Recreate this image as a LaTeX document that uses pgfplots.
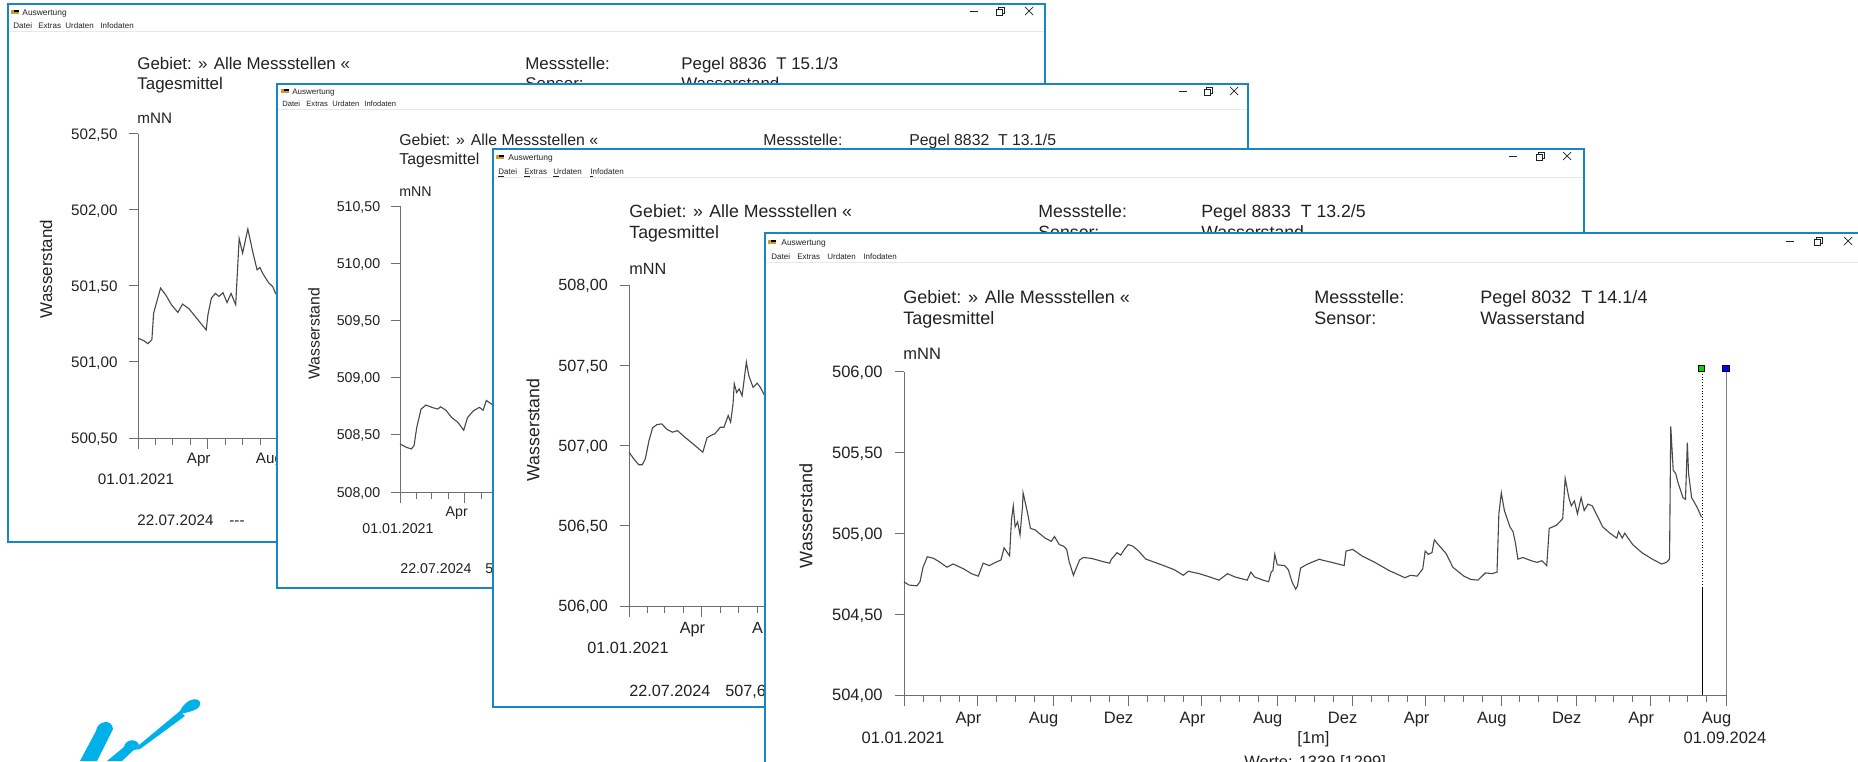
\documentclass[border=0pt]{standalone}
\usepackage{fontspec}
\setmainfont{Liberation Sans}
\usepackage{pgfplots}
\pgfplotsset{compat=1.18}
\definecolor{winblue}{RGB}{24,133,199}
\definecolor{txt}{RGB}{34,34,34}
\definecolor{axgray}{RGB}{110,110,110}
\definecolor{plotgray}{RGB}{72,72,72}
\definecolor{sepgray}{RGB}{232,232,232}
\definecolor{logocyan}{RGB}{0,176,232}
\definecolor{iconol}{RGB}{200,160,40}
\newcommand\fs[1]{\fontsize{#1}{#1}\selectfont}
\pgfplotsset{
 win/.style={
  scale only axis, anchor=south west,
  axis x line*=bottom, axis y line*=left,
  axis line style={draw=axgray, line width=0.5pt, -},
  tick style={axgray, line width=0.5pt},
  tick align=outside,
  major tick length=5.5pt, minor tick length=3.5pt,
  ytick style={/pgfplots/major tick length=4.5pt},
  xmin=0, xmax=1339,
  xtick={0,120,243,365,485,608,730,850,973,1095,1216,1339},
  minor xtick={31,59,90,151,181,212,273,304,334,396,424,455,516,546,577,638,669,699,761,789,820,881,911,942,1003,1034,1064,1126,1155,1186,1247,1277,1308},
  xticklabels={},
  extra x ticks={105,227.5,349.5,470,592.5,714.5,835,957.5,1079.5,1201,1323.5},
  extra x tick labels={Apr,Aug,Dez,Apr,Aug,Dez,Apr,Aug,Dez,Apr,Aug},
  /pgf/number format/assume math mode=true,
  yticklabel style={anchor=base east, inner sep=0pt, text=txt},
  clip=false,
 }
}
\newcommand\ctrls[4]{%
 \draw[txt, line width=0.35pt] (#1-4,#4) -- (#1+4,#4);
 \draw[txt, line width=0.35pt] (#2-4,#4-2) rectangle (#2+2,#4+4);
 \draw[txt, line width=0.35pt] (#2-2,#4-2) -- (#2-2,#4-4) -- (#2+4,#4-4) -- (#2+4,#4+2) -- (#2+2,#4+2);
 \draw[txt, line width=0.35pt] (#3-4,#4-4) -- (#3+4,#4+4) (#3-4,#4+4) -- (#3+4,#4-4);
}
\newcommand\icon[2]{\fill[iconol] (#1-4,#2-2) rectangle (#1+4,#2+2); \fill[black] (#1-1,#2-2) rectangle (#1+4,#2);}
\begin{document}
\begin{tikzpicture}[x=0.5pt,y=-0.5pt]
\begin{scope}
\clip (0,0) rectangle (1858,761);
\fill[white] (0,0) rectangle (1858,761);
% ---------- logo ----------
\fill[logocyan] (96,731) .. controls (97,721) and (112,718) .. (113,729) -- (97,761) -- (80,761) -- cycle;
\fill[logocyan] (124,747) .. controls (125,739) and (137,738) .. (139,745) -- (122,761) -- (107,761) -- cycle;
\fill[logocyan] (133,750) -- (180,711) -- (185,716) -- (140,749) -- cycle;
\fill[logocyan] (179,714) .. controls (182,702) and (196,695) .. (200,702) .. controls (202,709) and (191,712) .. (179,714) -- cycle;
% =============== WINDOW 1 ===============
\fill[white] (8,4) rectangle (1045,542);
\draw[winblue, line width=1pt] (8,4) rectangle (1045,542);
\draw[sepgray, line width=0.5pt] (9,31) -- (1044,31);
\icon{15}{12}
\node[anchor=base west, inner sep=0, font=\fs{4.2}, text=txt] at (22,15) {Auswertung};
\node[anchor=base west, inner sep=0, font=\fs{4}, text=txt] at (13,28) {Datei};
\node[anchor=base west, inner sep=0, font=\fs{4}, text=txt] at (38,28) {Extras};
\node[anchor=base west, inner sep=0, font=\fs{4}, text=txt] at (65,28) {Urdaten};
\node[anchor=base west, inner sep=0, font=\fs{4}, text=txt] at (100,28) {Infodaten};
\ctrls{974}{1000}{1029}{11}
\node[anchor=base west, inner sep=0, font=\fs{8.45}, text=txt] at (137,69) {Gebiet: » Alle Messstellen «};
\node[anchor=base west, inner sep=0, font=\fs{8.45}, text=txt] at (137,89) {Tagesmittel};
\node[anchor=base west, inner sep=0, font=\fs{8.45}, text=txt] at (525,69) {Messstelle:};
\node[anchor=base west, inner sep=0, font=\fs{8.45}, text=txt] at (525,89) {Sensor:};
\node[anchor=base west, inner sep=0, font=\fs{8.45}, text=txt] at (681,69) {Pegel 8836\ \ T 15.1/3};
\node[anchor=base west, inner sep=0, font=\fs{8.45}, text=txt] at (681,89) {Wasserstand};
\node[anchor=base west, inner sep=0, font=\fs{7.6}, text=txt] at (137,123) {mNN};
\node[rotate=90, inner sep=0, font=\fs{8.45}, text=txt] at (46,269) {Wasserstand};
\node[anchor=base, inner sep=0, font=\fs{7.6}, text=txt] at (136,484) {01.01.2021};
\node[anchor=base west, inner sep=0, font=\fs{7.6}, text=txt] at (137,525) {22.07.2024};
\node[anchor=base west, inner sep=0, font=\fs{7.6}, text=txt] at (229,525) {{-}{-}{-}};
\begin{axis}[win, at={(69pt,-219pt)}, width=387pt, height=152.2pt,
  ymin=500.5, ymax=502.5, ytick={500.5,501,501.5,502,502.5},
  yticklabels={{500,50},{501,00},{501,50},{502,00},{502,50}},
  tick label style={font=\fs{7.6}},
  yticklabel style={xshift=-4.5pt, yshift=-2.72pt},
  extra x tick style={/pgfplots/major tick length=0pt, tick label style={anchor=base, inner sep=0pt, text=txt, yshift=-12.75pt}}]
\addplot[plotgray, line width=0.55pt] coordinates {(0,501.156)(10,501.14)(17,501.12)(24,501.145)(27,501.32)(39,501.485)(48,501.44)(58,501.375)(69,501.325)(77,501.38)(88,501.35)(103,501.28)(118,501.21)(121,501.31)(127,501.42)(134,501.45)(140,501.43)(147,501.455)(154,501.39)(161,501.45)(169,501.375)(175,501.81)(181,501.715)(190,501.873)(199,501.715)(206,501.605)(211,501.62)(216,501.58)(226,501.52)(233,501.495)(238,501.45)(250,501.42)};
\end{axis}
% =============== WINDOW 2 ===============
\fill[white] (277,84) rectangle (1248,588);
\draw[winblue, line width=1pt] (277,84) rectangle (1248,588);
\draw[sepgray, line width=0.5pt] (278,109) -- (1247,109);
\icon{285}{91}
\node[anchor=base west, inner sep=0, font=\fs{4}, text=txt] at (292,94) {Auswertung};
\node[anchor=base west, inner sep=0, font=\fs{3.8}, text=txt] at (282,106) {Datei};
\node[anchor=base west, inner sep=0, font=\fs{3.8}, text=txt] at (306,106) {Extras};
\node[anchor=base west, inner sep=0, font=\fs{3.8}, text=txt] at (332,106) {Urdaten};
\node[anchor=base west, inner sep=0, font=\fs{3.8}, text=txt] at (364,106) {Infodaten};
\ctrls{1183}{1208}{1234}{91}
\node[anchor=base west, inner sep=0, font=\fs{7.9}, text=txt] at (399,145) {Gebiet: » Alle Messstellen «};
\node[anchor=base west, inner sep=0, font=\fs{7.9}, text=txt] at (399,164) {Tagesmittel};
\node[anchor=base west, inner sep=0, font=\fs{7.9}, text=txt] at (763,145) {Messstelle:};
\node[anchor=base west, inner sep=0, font=\fs{7.9}, text=txt] at (763,164) {Sensor:};
\node[anchor=base west, inner sep=0, font=\fs{7.9}, text=txt] at (909,145) {Pegel 8832\ \ T 13.1/5};
\node[anchor=base west, inner sep=0, font=\fs{7.9}, text=txt] at (909,164) {Wasserstand};
\node[anchor=base west, inner sep=0, font=\fs{7.1}, text=txt] at (399,196) {mNN};
\node[rotate=90, inner sep=0, font=\fs{7.9}, text=txt] at (314,334) {Wasserstand};
\node[anchor=base, inner sep=0, font=\fs{7.1}, text=txt] at (398,533) {01.01.2021};
\node[anchor=base west, inner sep=0, font=\fs{7.1}, text=txt] at (400,573) {22.07.2024};
\node[anchor=base west, inner sep=0, font=\fs{7.1}, text=txt] at (485,573) {508,73};
\begin{axis}[win, at={(200pt,-246pt)}, width=361.5pt, height=143pt,
  ymin=508, ymax=510.5, ytick={508,508.5,509,509.5,510,510.5},
  yticklabels={{508,00},{508,50},{509,00},{509,50},{510,00},{510,50}},
  tick label style={font=\fs{7.1}},
  yticklabel style={xshift=-4.2pt, yshift=-2.54pt},
  extra x tick style={/pgfplots/major tick length=0pt, tick label style={anchor=base, inner sep=0pt, text=txt, yshift=-12pt}}]
\addplot[plotgray, line width=0.55pt] coordinates {(0,508.42)(12,508.39)(21,508.377)(26,508.405)(31,508.565)(39,508.725)(48,508.76)(59,508.74)(70,508.725)(75,508.745)(85,508.715)(96,508.65)(107,508.61)(118,508.54)(125,508.65)(136,508.71)(147,508.74)(154,508.715)(160,508.80)(169,508.77)(180,508.74)};
\end{axis}
% =============== WINDOW 3 ===============
\fill[white] (493,149) rectangle (1584,707);
\draw[winblue, line width=1pt] (493,149) rectangle (1584,707);
\draw[sepgray, line width=0.5pt] (494,177) -- (1583,177);
\icon{500}{157}
\node[anchor=base west, inner sep=0, font=\fs{4.2}, text=txt] at (508,160) {Auswertung};
\node[anchor=base west, inner sep=0, font=\fs{4}, text=txt] at (498,174) {\underline{D}atei};
\node[anchor=base west, inner sep=0, font=\fs{4}, text=txt] at (524,174) {\underline{E}xtras};
\node[anchor=base west, inner sep=0, font=\fs{4}, text=txt] at (553,174) {\underline{U}rdaten};
\node[anchor=base west, inner sep=0, font=\fs{4}, text=txt] at (590,174) {\underline{I}nfodaten};
\ctrls{1513}{1540}{1567}{156}
\node[anchor=base west, inner sep=0, font=\fs{8.85}, text=txt] at (629,217) {Gebiet: » Alle Messstellen «};
\node[anchor=base west, inner sep=0, font=\fs{8.85}, text=txt] at (629,238) {Tagesmittel};
\node[anchor=base west, inner sep=0, font=\fs{8.85}, text=txt] at (1038,217) {Messstelle:};
\node[anchor=base west, inner sep=0, font=\fs{8.85}, text=txt] at (1038,238) {Sensor:};
\node[anchor=base west, inner sep=0, font=\fs{8.85}, text=txt] at (1201,217) {Pegel 8833\ \ T 13.2/5};
\node[anchor=base west, inner sep=0, font=\fs{8.85}, text=txt] at (1201,238) {Wasserstand};
\node[anchor=base west, inner sep=0, font=\fs{8.1}, text=txt] at (629,274) {mNN};
\node[rotate=90, inner sep=0, font=\fs{8.85}, text=txt] at (533,430) {Wasserstand};
\node[anchor=base, inner sep=0, font=\fs{8.1}, text=txt] at (628,653) {01.01.2021};
\node[anchor=base west, inner sep=0, font=\fs{8.1}, text=txt] at (629,696) {22.07.2024};
\node[anchor=base west, inner sep=0, font=\fs{8.1}, text=txt] at (725,696) {507,63};
\begin{axis}[win, at={(314.5pt,-303pt)}, width=405pt, height=160.5pt,
  ymin=506, ymax=508, ytick={506,506.5,507,507.5,508},
  yticklabels={{506,00},{506,50},{507,00},{507,50},{508,00}},
  tick label style={font=\fs{8.1}},
  yticklabel style={xshift=-4.8pt, yshift=-2.9pt},
  extra x tick style={/pgfplots/major tick length=0pt, tick label style={anchor=base, inner sep=0pt, text=txt, yshift=-13.5pt}}]
\addplot[plotgray, line width=0.55pt] coordinates {(0,506.958)(8,506.917)(16,506.88)(22,506.88)(27,506.917)(33,507.03)(39,507.11)(46,507.13)(54,507.135)(63,507.10)(72,507.083)(80,507.093)(93,507.05)(109,507.0)(122,506.958)(129,507.048)(135,507.062)(142,507.073)(151,507.114)(157,507.114)(164,507.187)(168,507.145)(172,507.26)(174,507.385)(178,507.33)(182,507.353)(187,507.31)(194,507.52)(198,507.436)(205,507.363)(212,507.388)(217,507.363)(223,507.32)(235,507.30)};
\end{axis}
% =============== WINDOW 4 ===============
\fill[white] (765,233) rectangle (1880,790);
\draw[winblue, line width=1pt] (765,233) rectangle (1880,790);
\draw[sepgray, line width=0.5pt] (766,262) -- (1858,262);
\icon{772}{242}
\node[anchor=base west, inner sep=0, font=\fs{4.2}, text=txt] at (781,245) {Auswertung};
\node[anchor=base west, inner sep=0, font=\fs{4}, text=txt] at (771,259) {Datei};
\node[anchor=base west, inner sep=0, font=\fs{4}, text=txt] at (797,259) {Extras};
\node[anchor=base west, inner sep=0, font=\fs{4}, text=txt] at (827,259) {Urdaten};
\node[anchor=base west, inner sep=0, font=\fs{4}, text=txt] at (863,259) {Infodaten};
\ctrls{1790}{1818}{1848}{241}
\node[anchor=base west, inner sep=0, font=\fs{9}, text=txt] at (903,303.5) {Gebiet: » Alle Messstellen «};
\node[anchor=base west, inner sep=0, font=\fs{9}, text=txt] at (903,324.5) {Tagesmittel};
\node[anchor=base west, inner sep=0, font=\fs{9}, text=txt] at (1314,303.5) {Messstelle:};
\node[anchor=base west, inner sep=0, font=\fs{9}, text=txt] at (1314,324.5) {Sensor:};
\node[anchor=base west, inner sep=0, font=\fs{9}, text=txt] at (1480,303.5) {Pegel 8032\ \ T 14.1/4};
\node[anchor=base west, inner sep=0, font=\fs{9}, text=txt] at (1480,324.5) {Wasserstand};
\node[anchor=base west, inner sep=0, font=\fs{8.25}, text=txt] at (903,359) {mNN};
\node[rotate=90, inner sep=0, font=\fs{9}, text=txt] at (806,516) {Wasserstand};
\node[anchor=base, inner sep=0, font=\fs{8.25}, text=txt] at (903,743) {01.01.2021};
\node[anchor=base west, inner sep=0, font=\fs{8.25}, text=txt] at (1297,743) {[1m]};
\node[anchor=base, inner sep=0, font=\fs{8.25}, text=txt] at (1725,743) {01.09.2024};
\node[anchor=base west, inner sep=0, font=\fs{8.25}, text=txt] at (1244,767) {Werte: 1339 [1299]};
\begin{axis}[win, at={(452pt,-347.5pt)}, width=411pt, height=161.75pt,
  ymin=504, ymax=506, ytick={504,504.5,505,505.5,506},
  yticklabels={{504,00},{504,50},{505,00},{505,50},{506,00}},
  tick label style={font=\fs{8.25}},
  yticklabel style={xshift=-5pt, yshift=-2.95pt},
  extra x tick style={/pgfplots/major tick length=0pt, tick label style={anchor=base, inner sep=0pt, text=txt, yshift=-14pt}}]
\addplot[plotgray, line width=0.55pt] coordinates {(0,504.70)(8,504.68)(21,504.675)(26,504.70)(31,504.79)(38,504.855)(48,504.845)(57,504.825)(70,504.79)(80,504.81)(97,504.78)(110,504.75)(121,504.735)(129,504.815)(139,504.80)(149,504.82)(158,504.835)(163,504.91)(172,504.86)(175,505.08)(178,505.17)(181,505.04)(185,505.07)(189,504.99)(193,505.165)(194,505.25)(201,505.13)(206,505.03)(214,505.02)(220,505.00)(230,504.97)(240,504.95)(245,504.98)(253,504.93)(260,504.92)(265,504.90)(269,504.825)(276,504.74)(279,504.77)(286,504.835)(292,504.85)(305,504.845)(324,504.825)(335,504.815)(338,504.84)(347,504.88)(353,504.865)(359,504.90)(365,504.93)(373,504.92)(382,504.89)(394,504.84)(405,504.825)(423,504.80)(440,504.775)(455,504.74)(463,504.765)(481,504.75)(498,504.73)(513,504.71)(527,504.75)(539,504.73)(559,504.71)(565,504.76)(571,504.73)(585,504.71)(594,504.70)(598,504.76)(601,504.77)(604,504.87)(608,504.805)(620,504.80)(626,504.775)(632,504.70)(638,504.655)(641,504.675)(646,504.785)(655,504.805)(667,504.825)(677,504.84)(680,504.835)(697,504.82)(717,504.80)(720,504.89)(731,504.90)(746,504.86)(767,504.82)(790,504.77)(816,504.725)(825,504.74)(836,504.735)(845,504.78)(849,504.89)(854,504.87)(860,504.88)(864,504.96)(868,504.94)(883,504.875)(894,504.79)(912,504.735)(923,504.715)(935,504.71)(947,504.755)(958,504.75)(966,504.76)(969,505.12)(973,505.25)(978,505.14)(987,505.04)(992,505.01)(996,504.94)(1000,504.84)(1008,504.85)(1022,504.83)(1031,504.82)(1039,504.83)(1047,504.80)(1051,505.03)(1063,505.05)(1073,505.09)(1077,505.34)(1083,505.22)(1087,505.17)(1092,505.20)(1097,505.12)(1103,505.22)(1108,505.14)(1114,505.18)(1121,505.17)(1129,505.11)(1138,505.04)(1150,505.00)(1161,504.97)(1164,505.01)(1170,504.97)(1174,505.00)(1187,504.93)(1202,504.88)(1219,504.84)(1234,504.81)(1242,504.82)(1247,504.84)(1249,505.66)(1253,505.39)(1257,505.37)(1261,505.31)(1269,505.22)(1273,505.21)(1276,505.56)(1278,505.37)(1283,505.22)(1292,505.16)(1299,505.10)};
\addplot[black, line width=0.4pt, densely dotted] coordinates {(1300,506.02)(1300,504.66)};
\addplot[black, line width=0.4pt] coordinates {(1300,504.66)(1300,504)};
\addplot[gray, line width=0.5pt] coordinates {(1339,506.02)(1339,504)};
\addplot[only marks, mark=square*, mark size=1.6pt, mark options={draw=none, fill=green!85!black}] coordinates {(1299,506.02)};
\addplot[only marks, mark=square*, mark size=1.6pt, mark options={draw=none, fill=blue}] coordinates {(1339,506.02)};
\end{axis}
\end{scope}
\pgfresetboundingbox
\path[use as bounding box] (0,0) rectangle (1858,761);
\end{tikzpicture}
\end{document}
